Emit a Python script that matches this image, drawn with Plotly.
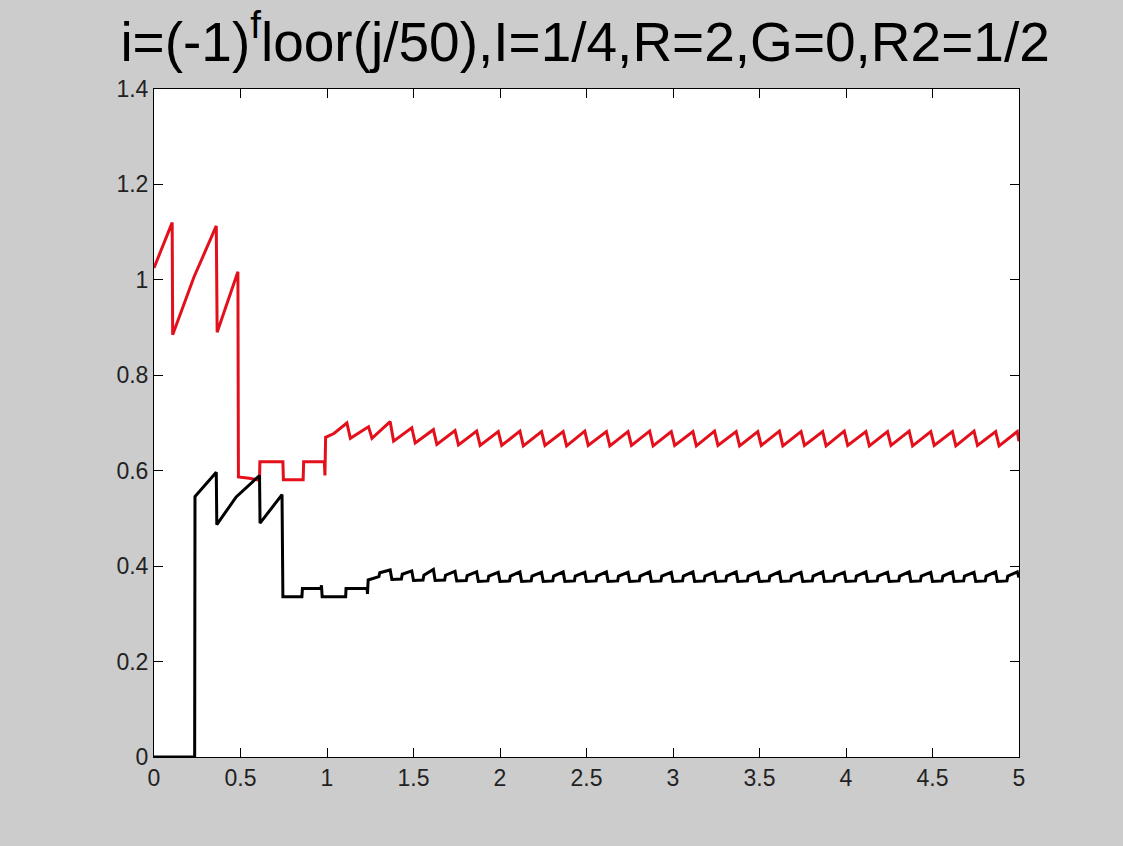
import plotly.graph_objects as go

# ---- data ----
red_x_early = [0, 0.105, 0.108, 0.23, 0.36, 0.365, 0.485, 0.488, 0.55, 0.61, 0.612,
               0.745, 0.748, 0.862, 0.865, 0.985, 0.988, 0.992, 1.04]
red_y_early = [1.025, 1.12, 0.885, 1.005, 1.113, 0.89, 1.017, 0.587, 0.584, 0.58, 0.619,
               0.619, 0.581, 0.581, 0.619, 0.619, 0.59, 0.67, 0.678]

red_x_steady = [1.115, 1.135, 1.24, 1.26, 1.365, 1.385, 1.49, 1.51, 1.615, 1.635,
                1.74, 1.76, 1.865, 1.885, 1.99, 2.01, 2.115, 2.135, 2.24, 2.26,
                2.365, 2.385, 2.49, 2.51, 2.615, 2.635, 2.74, 2.76, 2.865, 2.885,
                2.99, 3.01, 3.115, 3.135, 3.24, 3.26, 3.365, 3.385, 3.49, 3.51,
                3.615, 3.635, 3.74, 3.76, 3.865, 3.885, 3.99, 4.01, 4.115, 4.135,
                4.24, 4.26, 4.365, 4.385, 4.49, 4.51, 4.615, 4.635, 4.74, 4.76,
                4.865, 4.885, 4.99, 5.0]
red_y_steady = [0.700, 0.668, 0.692, 0.668, 0.703, 0.662, 0.690, 0.658, 0.686, 0.655,
                0.684, 0.654, 0.683, 0.653, 0.682, 0.653, 0.683, 0.652, 0.682, 0.653,
                0.682, 0.652, 0.683, 0.653, 0.682, 0.652, 0.682, 0.653, 0.683, 0.652,
                0.682, 0.653, 0.682, 0.652, 0.683, 0.653, 0.682, 0.652, 0.682, 0.653,
                0.683, 0.652, 0.682, 0.653, 0.682, 0.652, 0.683, 0.653, 0.682, 0.652,
                0.682, 0.653, 0.683, 0.652, 0.682, 0.653, 0.682, 0.652, 0.683, 0.653,
                0.682, 0.652, 0.682, 0.662]

black_x_early = [0, 0.235, 0.237, 0.36, 0.363, 0.46, 0.475, 0.61, 0.613, 0.74, 0.745,
                 0.855, 0.858, 0.965, 0.968, 0.972, 1.108, 1.11, 1.232, 1.234, 1.238,
                 1.30, 1.305]
black_y_early = [0, 0, 0.546, 0.597, 0.487, 0.535, 0.545, 0.59, 0.49, 0.55, 0.336,
                 0.336, 0.353, 0.353, 0.36, 0.336, 0.336, 0.353, 0.353, 0.342, 0.371,
                 0.378, 0.386]

black_x_steady = [1.365, 1.375, 1.43, 1.435, 1.49, 1.5, 1.555, 1.56,
                  1.615, 1.625, 1.68, 1.685, 1.74, 1.75, 1.805, 1.81,
                  1.865, 1.875, 1.93, 1.935, 1.99, 2.0, 2.055, 2.06,
                  2.115, 2.125, 2.18, 2.185, 2.24, 2.25, 2.305, 2.31,
                  2.365, 2.375, 2.43, 2.435, 2.49, 2.5, 2.555, 2.56,
                  2.615, 2.625, 2.68, 2.685, 2.74, 2.75, 2.805, 2.81,
                  2.865, 2.875, 2.93, 2.935, 2.99, 3.0, 3.055, 3.06,
                  3.115, 3.125, 3.18, 3.185, 3.24, 3.25, 3.305, 3.31,
                  3.365, 3.375, 3.43, 3.435, 3.49, 3.5, 3.555, 3.56,
                  3.615, 3.625, 3.68, 3.685, 3.74, 3.75, 3.805, 3.81,
                  3.865, 3.875, 3.93, 3.935, 3.99, 4.0, 4.055, 4.06,
                  4.115, 4.125, 4.18, 4.185, 4.24, 4.25, 4.305, 4.31,
                  4.365, 4.375, 4.43, 4.435, 4.49, 4.5, 4.555, 4.56,
                  4.615, 4.625, 4.68, 4.685, 4.74, 4.75, 4.805, 4.81,
                  4.865, 4.875, 4.93, 4.935, 4.99, 5.0]
black_y_steady = [0.392, 0.372, 0.373, 0.383, 0.390, 0.370, 0.371, 0.381,
                  0.393, 0.370, 0.371, 0.381, 0.389, 0.369, 0.370, 0.380,
                  0.388, 0.368, 0.369, 0.379, 0.387, 0.368, 0.369, 0.379,
                  0.388, 0.368, 0.369, 0.379, 0.387, 0.368, 0.369, 0.379,
                  0.388, 0.368, 0.369, 0.379, 0.387, 0.368, 0.369, 0.379,
                  0.388, 0.368, 0.369, 0.379, 0.387, 0.368, 0.369, 0.379,
                  0.388, 0.368, 0.369, 0.379, 0.387, 0.368, 0.369, 0.379,
                  0.388, 0.368, 0.369, 0.379, 0.387, 0.368, 0.369, 0.379,
                  0.388, 0.368, 0.369, 0.379, 0.387, 0.368, 0.369, 0.379,
                  0.388, 0.368, 0.369, 0.379, 0.387, 0.368, 0.369, 0.379,
                  0.388, 0.368, 0.369, 0.379, 0.387, 0.368, 0.369, 0.379,
                  0.388, 0.368, 0.369, 0.379, 0.387, 0.368, 0.369, 0.379,
                  0.388, 0.368, 0.369, 0.379, 0.387, 0.368, 0.369, 0.379,
                  0.388, 0.368, 0.369, 0.379, 0.387, 0.368, 0.369, 0.379,
                  0.388, 0.368, 0.369, 0.379, 0.388, 0.376]

x_tick_vals = [0, 0.5, 1, 1.5, 2, 2.5, 3, 3.5, 4, 4.5, 5]
x_tick_text = ["0", "0.5", "1", "1.5", "2", "2.5", "3", "3.5", "4", "4.5", "5"]
y_tick_vals = [0, 0.2, 0.4, 0.6, 0.8, 1.0, 1.2, 1.4]
y_tick_text = ["0", "0.2", "0.4", "0.6", "0.8", "1", "1.2", "1.4"]

title_text = "i=(-1)<sup>f</sup>loor(j/50),I=1/4,R=2,G=0,R2=1/2"

fig = go.Figure()
fig.add_trace(go.Scatter(x=red_x_early + red_x_steady, y=red_y_early + red_y_steady,
                         mode="lines", line=dict(color="#e3101c", width=3),
                         showlegend=False))
fig.add_trace(go.Scatter(x=black_x_early + black_x_steady, y=black_y_early + black_y_steady,
                         mode="lines", line=dict(color="#000000", width=3),
                         showlegend=False))

font_family = "Liberation Sans, Arial, sans-serif"
fig.update_layout(
    width=1123, height=846,
    paper_bgcolor="#cccccc", plot_bgcolor="#ffffff",
    margin=dict(l=154, r=104, t=89, b=89, autoexpand=False),
    font=dict(family=font_family, color="#222222", size=23),
    title=dict(text=title_text, x=0.521, xanchor="center",
               y=1 - 42 / 846, yanchor="middle", yref="container",
               font=dict(family=font_family, size=55, color="#000000")),
    xaxis=dict(range=[0, 5], tickvals=x_tick_vals, ticktext=x_tick_text,
               showgrid=False, zeroline=False, showline=True, linecolor="#000000",
               linewidth=1, mirror="ticks", ticks="inside", ticklen=9,
               tickcolor="#000000", tickwidth=1, tickfont=dict(size=23)),
    yaxis=dict(range=[0, 1.4], tickvals=y_tick_vals, ticktext=y_tick_text,
               showgrid=False, zeroline=False, showline=True, linecolor="#000000",
               linewidth=1, mirror="ticks", ticks="inside", ticklen=9,
               tickcolor="#000000", tickwidth=1, tickfont=dict(size=23)),
)

fig.write_html("out.html")
